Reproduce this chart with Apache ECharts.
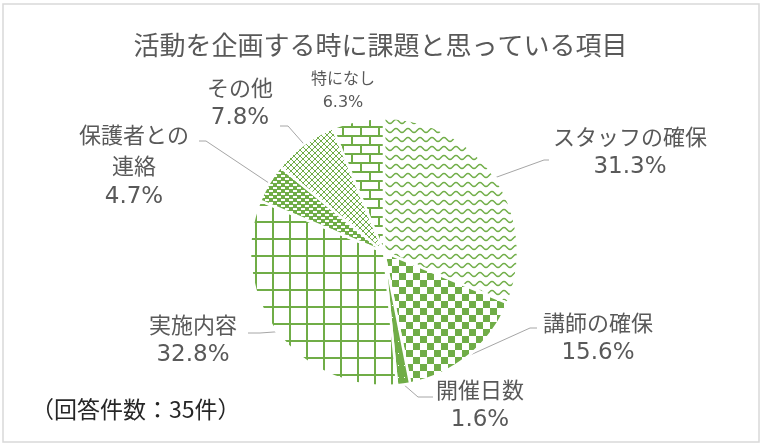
<!DOCTYPE html>
<html>
<head>
<meta charset="utf-8">
<script src="https://cdn.jsdelivr.net/npm/echarts@6.0.0/dist/echarts.min.js"></script>
<style>
  html, body { margin: 0; padding: 0; background: #fff; }
  #chart { width: 761px; height: 445px; }
</style>
</head>
<body>
<div id="chart"></div>
<script>
// data
var categories = ["スタッフの確保", "講師の確保", "開催日数", "実施内容", "保護者との連絡", "その他", "特になし"];
var counts = [20, 10, 1, 21, 3, 5, 4];
var titleText = "活動を企画する時に課題と思っている項目";
var noteText = "（回答件数：35件）";

var G = "#70AD47";
var TXT = "#595959";
var JP = "Noto Sans CJK JP";

function mk(w, h) {
  var c = document.createElement("canvas");
  c.width = w; c.height = h;
  var g = c.getContext("2d");
  g.fillStyle = "#fff";
  g.fillRect(0, 0, w, h);
  g.fillStyle = G;
  g.strokeStyle = G;
  return { c: c, g: g };
}

// 波線
function wave() {
  var t = mk(12, 9), g = t.g;
  g.lineWidth = 1.5;
  g.beginPath();
  for (var x = -1; x <= 13; x++) {
    var y = 4.5 - 2 * Math.cos(2 * Math.PI * x / 12);
    if (x === -1) g.moveTo(x, y); else g.lineTo(x, y);
  }
  g.stroke();
  return t.c;
}
// 市松
function checker() {
  var t = mk(14, 14), g = t.g;
  g.fillRect(0, 0, 7, 7);
  g.fillRect(7, 7, 7, 7);
  return t.c;
}
// ほぼ塗りつぶし
function solidDots() {
  var t = mk(6, 12), g = t.g;
  g.fillRect(0, 0, 6, 12);
  g.fillStyle = "#fff";
  g.fillRect(2, 5, 1, 1);
  return t.c;
}
// 格子
function grid() {
  var t = mk(17, 17), g = t.g;
  g.fillRect(0, 0, 17, 2);
  g.fillRect(0, 0, 2, 17);
  return t.c;
}
// 破線（緑地に白）
function dashes() {
  var t = mk(8, 6), g = t.g;
  g.fillRect(0, 0, 8, 6);
  g.fillStyle = "#fff";
  g.fillRect(1, 1, 4, 2);
  g.fillRect(5, 4, 4, 2);
  g.fillRect(-3, 4, 4, 2);
  return t.c;
}
// 斜め格子
function diamond() {
  var t = mk(6, 6), g = t.g;
  for (var i = 0; i < 6; i++) {
    g.fillRect(i, i, 1, 1);
    g.fillRect(5 - i, i, 1, 1);
  }
  return t.c;
}
// レンガ
function brick() {
  var t = mk(18, 18), g = t.g;
  g.fillRect(0, 0, 18, 2);
  g.fillRect(0, 9, 18, 2);
  g.fillRect(0, 0, 2, 9);
  g.fillRect(9, 9, 2, 9);
  return t.c;
}

var patterns = [wave(), checker(), solidDots(), grid(), dashes(), diamond(), brick()];

// layout
var CX = 384, CY = 252, R = 134;
var labelPos = [[630, 152], [598, 338], [480, 405], [193, 340], [134, 166], [240, 103], [343, 90]];
// leader line: [elbow, end]
var lineEnds = [
  [[544, 160], [549, 160]],
  [[530, 328], [537, 328]],
  [[418, 397], [433, 397]],
  [[260, 333], [248, 333]],
  [[206, 141], [199, 141]],
  [[288, 126], [280, 126]],
  null
];

var total = counts.reduce(function (a, b) { return a + b; }, 0);

function arcPoint(i) {
  var before = 0;
  for (var k = 0; k < i; k++) before += counts[k];
  var mid = (before + counts[i] / 2) / total * 2 * Math.PI;
  return [CX + R * Math.sin(mid), CY - R * Math.cos(mid)];
}

var pieData = categories.map(function (name, i) {
  var item = {
    name: name,
    value: counts[i],
    itemStyle: { color: { image: patterns[i], repeat: "repeat" } }
  };
  if (i === 6) {
    item.label = {
      rich: {
        n: { fontFamily: JP, fontSize: 16, lineHeight: 25, color: TXT },
        p: { fontFamily: "DejaVu Sans", fontSize: 16, lineHeight: 25, color: TXT }
      }
    };
    item.labelLine = { show: false };
  }
  return item;
});

var chart = echarts.init(document.getElementById("chart"));
var option = {
  backgroundColor: "#fff",
  animation: false,
  title: {
    text: titleText,
    left: "center",
    top: 27,
    textStyle: {
      fontFamily: JP,
      fontSize: 26,
      fontWeight: "normal",
      color: TXT
    }
  },
  graphic: [
    {
      type: "rect",
      shape: { x: 3, y: 4, width: 756, height: 438 },
      style: { fill: "none", stroke: "#d9d9d9", lineWidth: 1.5 },
      silent: true
    },
    {
      type: "text",
      left: 31,
      top: 398,
      style: {
        text: noteText,
        fontFamily: JP,
        fontSize: 23,
        fill: "#262626"
      }
    }
  ],
  series: [
    {
      type: "pie",
      center: [CX, CY],
      radius: R,
      startAngle: 90,
      clockwise: true,
      itemStyle: { borderColor: "#fff", borderWidth: 2.5 },
      emphasis: { disabled: true },
      label: {
        show: true,
        position: "outside",
        color: TXT,
        align: "center",
        formatter: function (p) {
          var n = p.name.replace("との", "との\n");
          var lines = n.split("\n").map(function (s) { return "{n|" + s + "}"; }).join("\n");
          return lines + "\n{p|" + (p.value / total * 100).toFixed(1) + "%}";
        },
        rich: {
          n: { fontFamily: JP, fontSize: 22, lineHeight: 31, color: TXT },
          p: { fontFamily: "DejaVu Sans", fontSize: 23, lineHeight: 31, color: TXT }
        }
      },
      labelLine: {
        show: true,
        length: 10,
        length2: 10,
        lineStyle: { color: "#a6a6a6", width: 1 }
      },
      labelLayout: function (params) {
        var i = params.dataIndex;
        var p = labelPos[i];
        var res = { x: p[0], y: p[1], align: "center", verticalAlign: "middle" };
        if (lineEnds[i]) {
          res.labelLinePoints = [arcPoint(i), lineEnds[i][0], lineEnds[i][1]];
        }
        return res;
      },
      data: pieData
    }
  ]
};
chart.setOption(option);
</script>
</body>
</html>
